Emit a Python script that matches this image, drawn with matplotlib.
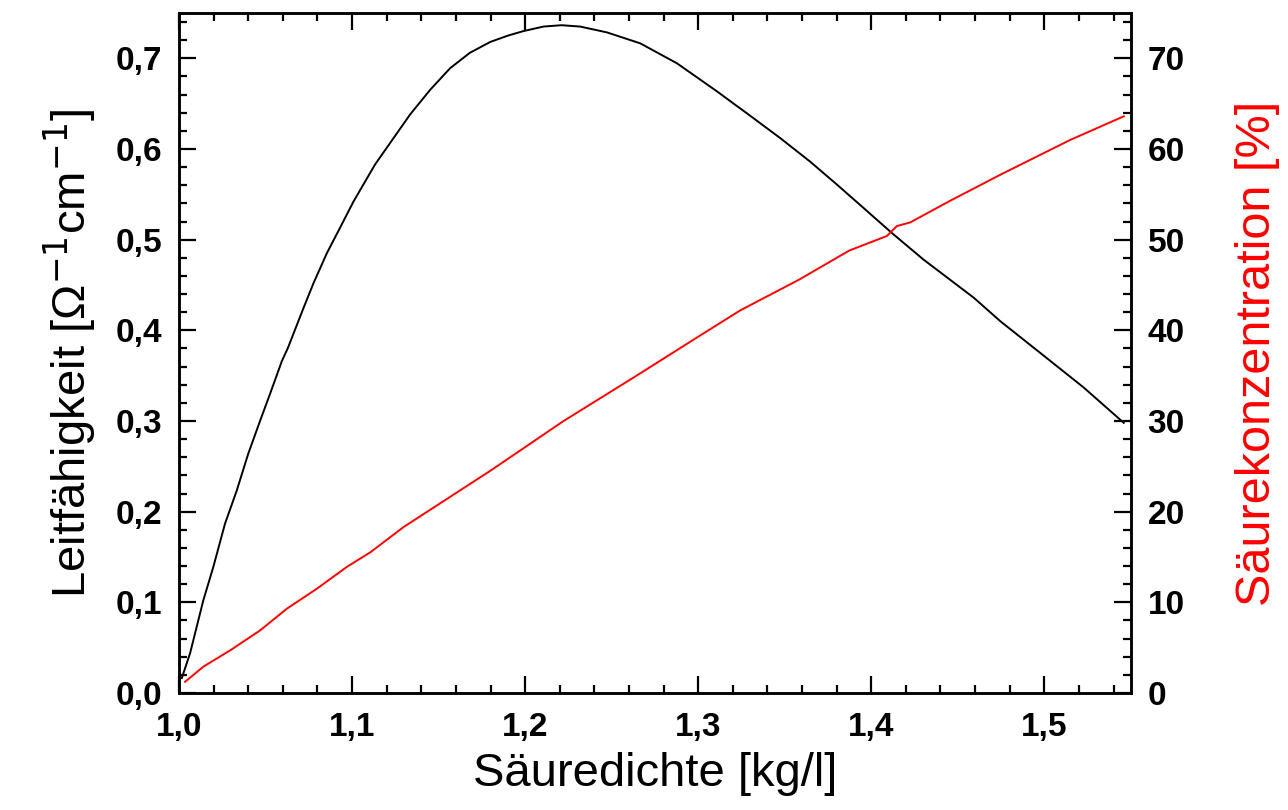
import matplotlib
matplotlib.use("Agg")
import matplotlib.pyplot as plt
from matplotlib.ticker import MultipleLocator, FuncFormatter

plt.rcParams['font.family'] = ['Liberation Sans', 'DejaVu Sans']

# Conductivity (black, left axis)
dens_c = [1.0016, 1.0064, 1.014, 1.0198, 1.0266, 1.0333, 1.040, 1.0468, 1.0526,
          1.0594, 1.063, 1.072, 1.0777, 1.0854, 1.093, 1.1008, 1.1133, 1.1335,
          1.145, 1.1566, 1.168, 1.1798, 1.19, 1.199, 1.2106, 1.221, 1.2318,
          1.2472, 1.2665, 1.2877, 1.3105, 1.328, 1.3474, 1.3647, 1.380, 1.3955,
          1.4118, 1.4302, 1.4592, 1.4746, 1.4977, 1.5227, 1.5459]
cond = [0.0165, 0.044, 0.102, 0.139, 0.187, 0.223, 0.264, 0.300, 0.330,
        0.366, 0.381, 0.425, 0.452, 0.485, 0.513, 0.542, 0.583, 0.638,
        0.665, 0.689, 0.706, 0.718, 0.725, 0.730, 0.735, 0.7365, 0.735,
        0.7286, 0.7165, 0.6945, 0.664, 0.6395, 0.612, 0.586, 0.561, 0.535,
        0.5075, 0.478, 0.436, 0.410, 0.375, 0.337, 0.298]

# Acid concentration (red, right axis)
dens_p = [1.0035, 1.014, 1.0295, 1.0468, 1.0623, 1.0796, 1.0969, 1.1104, 1.1297,
          1.1798, 1.2222, 1.2627, 1.2992, 1.3243, 1.3584, 1.3873, 1.409, 1.4148,
          1.4225, 1.4457, 1.475, 1.515, 1.5459]
conc = [1.24, 2.9, 4.7, 6.9, 9.3, 11.5, 13.9, 15.5, 18.3,
        24.5, 30.0, 34.8, 39.2, 42.2, 45.6, 48.8, 50.4, 51.5,
        51.9, 54.3, 57.2, 61.0, 63.6]

fig = plt.figure(figsize=(12.88, 8.10), dpi=100)
ax = fig.add_axes([0.139, 0.1444, 0.739, 0.8396])
ax2 = ax.twinx()

ax.plot(dens_c, cond, color='black', lw=1.4)
ax2.plot(dens_p, conc, color='red', lw=1.4)

ax.set_xlim(1.0, 1.55)
ax.set_ylim(0, 0.75)
ax2.set_ylim(0, 75)

comma = lambda fmt: FuncFormatter(lambda v, p: (fmt % v).replace('.', ','))
ax.xaxis.set_major_locator(MultipleLocator(0.1))
ax.xaxis.set_minor_locator(MultipleLocator(0.02))
ax.yaxis.set_major_locator(MultipleLocator(0.1))
ax.yaxis.set_minor_locator(MultipleLocator(0.02))
ax.xaxis.set_major_formatter(comma('%.1f'))
ax.yaxis.set_major_formatter(comma('%.1f'))
ax2.yaxis.set_major_locator(MultipleLocator(10))
ax2.yaxis.set_minor_locator(MultipleLocator(2))

for a in (ax, ax2):
    for s in a.spines.values():
        s.set_linewidth(1.8)
ax.tick_params(which='both', direction='in', top=True, width=1.6)
ax.tick_params(which='major', length=12, labelsize=24, pad=12)
ax.tick_params(which='minor', length=6)
ax.tick_params(axis='x', pad=14)
ax2.tick_params(which='both', direction='in', width=1.6)
ax2.tick_params(which='major', length=12, labelsize=24, pad=12)
ax2.tick_params(which='minor', length=6)
for lab in ax.get_xticklabels() + ax.get_yticklabels() + ax2.get_yticklabels():
    lab.set_fontweight('bold')

ax.set_xlabel('Säuredichte [kg/l]', fontsize=34, labelpad=6)
ax.set_ylabel('Leitfähigkeit [Ω$^{-1}$cm$^{-1}$]', fontsize=34, labelpad=12)
ax2.set_ylabel('Säurekonzentration [%]', fontsize=35, color='red', labelpad=36)

fig.savefig('out.png', dpi=100)
